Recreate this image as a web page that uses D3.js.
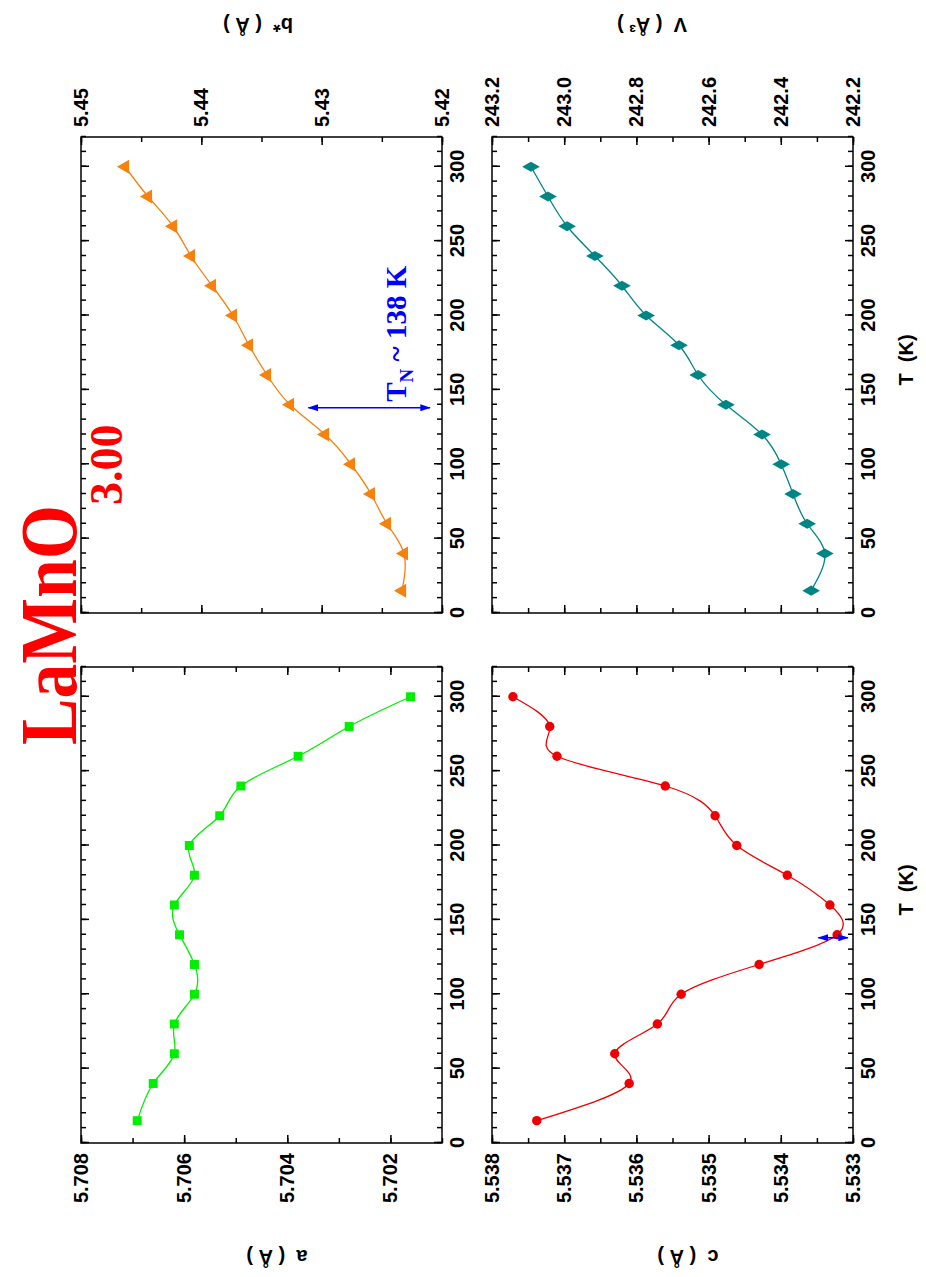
<!DOCTYPE html>
<html>
<head>
<meta charset="utf-8">
<script src="https://cdn.jsdelivr.net/npm/d3@7"></script>
<style>
  body { margin: 0; background: #fff; }
  .tick text { font-family: "Liberation Sans", Arial, sans-serif; font-weight: bold; font-size: 20px; fill: #000; }
  .axis path, .axis line { stroke: #000; stroke-width: 1.5; }
  .lbl { font-family: "Liberation Sans", Arial, sans-serif; font-weight: bold; font-size: 20px; }
</style>
</head>
<body>
<div id="chart"></div>
<script>
// temperatures (K)
var temps = [15, 40, 60, 80, 100, 120, 140, 160, 180, 200, 220, 240, 260, 280, 300];

// lattice parameters
var aVals = [5.70691, 5.70660, 5.70619, 5.70619, 5.70580, 5.70580, 5.70609, 5.70619,
             5.70580, 5.70590, 5.70531, 5.70490, 5.70379, 5.70280, 5.70161];
var bVals = [5.42332, 5.42316, 5.42457, 5.42590, 5.42756, 5.42972, 5.43263, 5.43454,
             5.43604, 5.43737, 5.43911, 5.44086, 5.44235, 5.44443, 5.44634];
var cVals = [5.53738, 5.53610, 5.53630, 5.53571, 5.53538, 5.53430, 5.53322, 5.53332,
             5.53391, 5.53461, 5.53491, 5.53560, 5.53710, 5.53720, 5.53771];
var vVals = [242.316, 242.278, 242.327, 242.366, 242.399, 242.452, 242.552, 242.629,
             242.682, 242.773, 242.840, 242.915, 242.992, 243.045, 243.092];

// tick values
var tTicks = [0, 50, 100, 150, 200, 250, 300];
var aTicks = [5.702, 5.704, 5.706, 5.708];
var bTicks = [5.42, 5.43, 5.44, 5.45];
var cTicks = [5.533, 5.534, 5.535, 5.536, 5.537, 5.538];
var vTicks = [242.2, 242.4, 242.6, 242.8, 243.0, 243.2];

// Neel temperature markers
var tN = 138;
var bArrow = [5.4311, 5.4210];
var cArrow = [5.53348, 5.53307];

// the page is drawn in landscape and then turned a quarter turn
var W = 1277, H = 926;
var svg = d3.select("#chart").append("svg")
  .attr("width", H).attr("height", W);

var defs = svg.append("defs");
defs.append("marker")
  .attr("id", "arr")
  .attr("viewBox", "0 0 12 8")
  .attr("refX", 11).attr("refY", 4)
  .attr("markerWidth", 11).attr("markerHeight", 7)
  .attr("markerUnits", "userSpaceOnUse")
  .attr("orient", "auto-start-reverse")
  .append("path").attr("d", "M0,0 L12,4 L0,8 Z").attr("fill", "#0000ff");

var page = svg.append("g").attr("transform", "translate(0," + W + ") rotate(-90)");

var pw = 476, ph = 361;

function range(a, b, s) {
  var out = [];
  for (var v = a; v <= b + s / 1000; v += s) out.push(+v.toFixed(6));
  return out;
}

var panels = [
  {x0: 134, y0: 81,  vals: aVals, dom: [5.701, 5.708], ticks: aTicks, minor: range(5.701, 5.708, 0.001),
   fmt: d3.format(".3f"), color: "#00ee00", sym: d3.symbolSquare, size: 80, side: "left",
   title: "a  ( Å )", tx: 20, ty: 277},
  {x0: 664, y0: 81,  vals: bVals, dom: [5.42, 5.45], ticks: bTicks, minor: range(5.42, 5.45, 0.005),
   fmt: d3.format(".2f"), color: "#f5820f", sym: d3.symbolTriangle, size: 85, side: "right",
   title: "b*  ( Å )", tx: 1252, ty: 258},
  {x0: 134, y0: 492, vals: cVals, dom: [5.533, 5.538], ticks: cTicks, minor: range(5.533, 5.538, 0.0005),
   fmt: d3.format(".3f"), color: "#ee0000", sym: d3.symbolCircle, size: 70, side: "left",
   title: "c  ( Å )", tx: 20, ty: 688, xlab: true},
  {x0: 664, y0: 492, vals: vVals, dom: [242.2, 243.2], ticks: vTicks, minor: range(242.2, 243.2, 0.1),
   fmt: d3.format(".1f"), color: "#008585", sym: d3.symbolDiamond, size: 90, side: "right",
   title: "V  ( Å³ )", tx: 1252, ty: 652, xlab: true}
];

panels.forEach(function(p) {
  var g = page.append("g").attr("transform", "translate(" + p.x0 + "," + p.y0 + ")");
  var x = d3.scaleLinear().domain([0, 320]).range([0, pw]);
  var y = d3.scaleLinear().domain(p.dom).range([ph, 0]);
  p.x = x; p.y = y; p.g = g;

  // T axis, bottom with labels, top mirrored
  g.append("g").attr("class", "axis").attr("transform", "translate(0," + ph + ")")
    .call(d3.axisBottom(x).tickValues(tTicks).tickSizeInner(-8).tickSizeOuter(0).tickPadding(8));
  g.append("g").attr("class", "axis").attr("transform", "translate(0," + ph + ")")
    .call(d3.axisBottom(x).tickValues(range(0, 320, 10)).tickSize(-5).tickFormat(""));
  g.append("g").attr("class", "axis")
    .call(d3.axisTop(x).tickValues(tTicks).tickSize(-8).tickFormat(""));
  g.append("g").attr("class", "axis")
    .call(d3.axisTop(x).tickValues(range(0, 320, 10)).tickSize(-5).tickFormat(""));

  // value axis on the chosen side, mirror on the other
  var labAxis = p.side === "left" ? d3.axisLeft(y) : d3.axisRight(y);
  var mirAxis = p.side === "left" ? d3.axisRight(y) : d3.axisLeft(y);
  var labX = p.side === "left" ? 0 : pw, mirX = p.side === "left" ? pw : 0;
  g.append("g").attr("class", "axis").attr("transform", "translate(" + labX + ",0)")
    .call(labAxis.tickValues(p.ticks).tickFormat(p.fmt).tickSizeInner(-8).tickSizeOuter(0).tickPadding(10));
  g.append("g").attr("class", "axis").attr("transform", "translate(" + labX + ",0)")
    .call((p.side === "left" ? d3.axisLeft(y) : d3.axisRight(y)).tickValues(p.minor).tickSize(-5).tickFormat(""));
  g.append("g").attr("class", "axis").attr("transform", "translate(" + mirX + ",0)")
    .call(mirAxis.tickValues(p.ticks).tickSize(-8).tickFormat(""));
  g.append("g").attr("class", "axis").attr("transform", "translate(" + mirX + ",0)")
    .call((p.side === "left" ? d3.axisRight(y) : d3.axisLeft(y)).tickValues(p.minor).tickSize(-5).tickFormat(""));
  g.selectAll(".axis .domain").remove();

  g.append("rect").attr("width", pw).attr("height", ph)
    .attr("fill", "none").attr("stroke", "#000").attr("stroke-width", 1.5);

  // smooth curve through the data
  var line = d3.line().curve(d3.curveNatural)
    .x(function(d, i) { return x(temps[i]); })
    .y(function(d) { return y(d); });
  g.append("path").datum(p.vals)
    .attr("d", line).attr("fill", "none")
    .attr("stroke", p.color).attr("stroke-width", 1.3);

  g.selectAll(".pt").data(p.vals).enter().append("path")
    .attr("class", "pt")
    .attr("transform", function(d, i) { return "translate(" + x(temps[i]) + "," + y(d) + ")"; })
    .attr("d", d3.symbol().type(p.sym).size(p.size))
    .attr("fill", p.color);

  // axis titles
  page.append("text").attr("class", "lbl")
    .attr("transform", "translate(" + p.tx + "," + p.ty + ") rotate(-90)")
    .attr("text-anchor", "middle").attr("dy", "0.35em")
    .attr("xml:space", "preserve")
    .text(p.title);
  if (p.xlab) {
    page.append("text").attr("class", "lbl")
      .attr("x", p.x0 + pw / 2 + 15).attr("y", p.y0 + ph + 60)
      .attr("text-anchor", "middle")
      .attr("xml:space", "preserve")
      .text("T  (K)");
  }
});

// Neel temperature arrows
var pb = panels[1], pc = panels[2];
pb.g.append("line")
  .attr("x1", pb.x(tN)).attr("x2", pb.x(tN))
  .attr("y1", pb.y(bArrow[0])).attr("y2", pb.y(bArrow[1]))
  .attr("stroke", "#0000ff").attr("stroke-width", 1.6)
  .attr("marker-start", "url(#arr)").attr("marker-end", "url(#arr)");
pc.g.append("line")
  .attr("x1", pc.x(tN)).attr("x2", pc.x(tN))
  .attr("y1", pc.y(cArrow[0])).attr("y2", pc.y(cArrow[1]))
  .attr("stroke", "#0000ff").attr("stroke-width", 1.6)
  .attr("marker-start", "url(#arr)").attr("marker-end", "url(#arr)");

var tn = pb.g.append("text")
  .attr("x", pb.x(tN) + 6).attr("y", pb.y(5.4230))
  .attr("font-family", "'Liberation Serif', 'Times New Roman', serif")
  .attr("font-weight", "bold").attr("font-size", 29).attr("fill", "#0000ff");
tn.append("tspan").text("T");
tn.append("tspan").attr("font-size", 19).attr("dy", 7).text("N");
tn.append("tspan").attr("dy", -7).attr("xml:space", "preserve").text(" ~ 138 K");

// title
var ttl = page.append("text")
  .attr("x", 532).attr("y", 76)
  .attr("font-family", "'Liberation Serif', 'Times New Roman', serif")
  .attr("font-weight", "bold").attr("font-size", 80).attr("fill", "#ff0000");
ttl.append("tspan").attr("textLength", 240).attr("lengthAdjust", "spacingAndGlyphs").text("LaMnO");
ttl.append("tspan").attr("font-size", 46).attr("dy", 46).text("3.00");
</script>
</body>
</html>
